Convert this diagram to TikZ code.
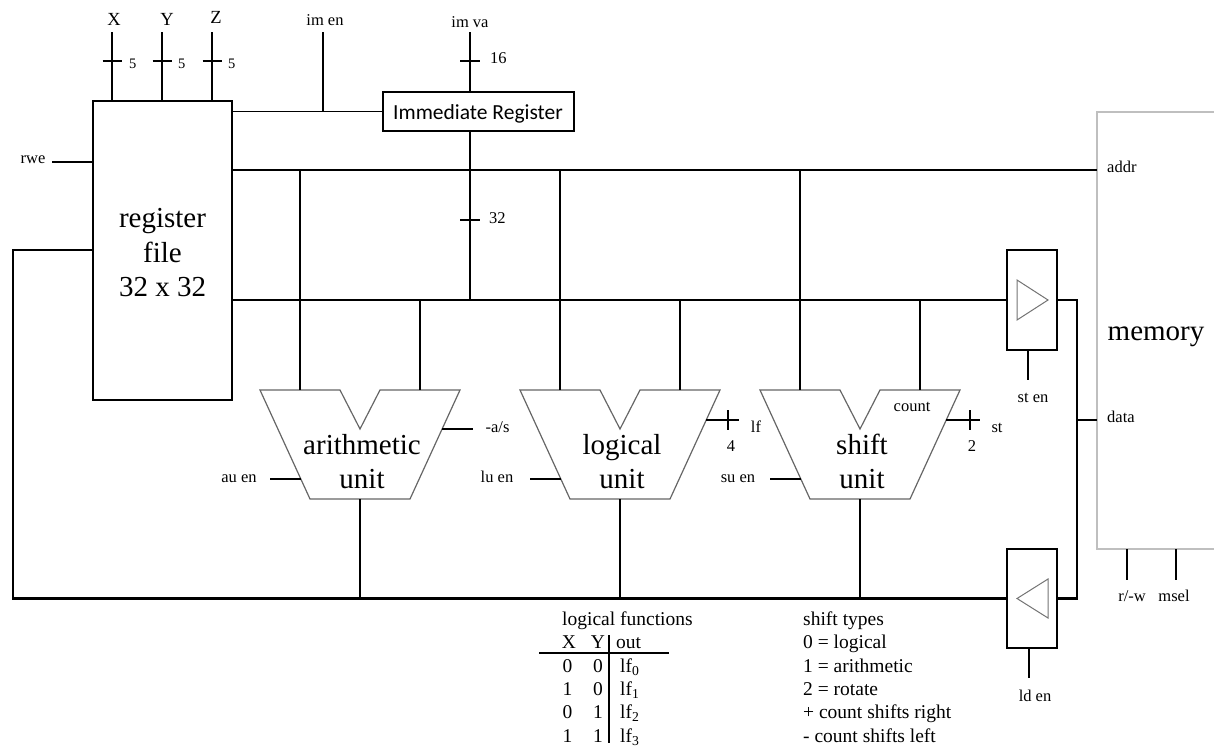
\documentclass[tikz,border=0pt]{standalone}
\usepackage{fontspec}
\setmainfont{Liberation Serif}
\newfontfamily\calib{Carlito}
\begin{document}
\begin{tikzpicture}[x=1pt,y=-1pt,
  bus/.style={line width=2.6pt},
  wire/.style={line width=1.3pt},
  box/.style={draw, line width=1.3pt, inner sep=0pt, outer sep=0pt},
  unitshape/.style={draw=black!60, line width=1.2pt, line join=miter},
  lbl/.style={inner sep=0pt, anchor=base, font=\fontsize{16.5}{19}\selectfont},
  lblw/.style={lbl, anchor=base west},
  sml/.style={inner sep=0pt, anchor=base west, font=\fontsize{14.5}{17}\selectfont},
  pin/.style={inner sep=0pt, anchor=base, font=\fontsize{18.5}{21}\selectfont},
  big/.style={inner sep=0pt, anchor=base, font=\fontsize{29}{34}\selectfont},
  tbl/.style={inner sep=0pt, anchor=base, font=\fontsize{19.5}{23}\selectfont},
  tblw/.style={tbl, anchor=base west},
  pics/alu/.style 2 args={code={
    \draw[unitshape] (-100,0) -- (-20,0) -- (0,39) -- (20,0) -- (100,0) -- (50,109) -- (-50,109) -- cycle;
    \coordinate (-in1) at (-60,0);
    \coordinate (-in2) at (60,0);
    \coordinate (-out) at (0,109);
    \coordinate (-en) at (-59.2,89);
    \coordinate (-ctl) at (86.2,30);
    \coordinate (-as) at (82.1,39);
    \node[big] (-t1) at (2,64) {#1};
    \node[big] (-t2) at (2,98) {#2};
  }}]
\useasboundingbox (0,0) rectangle (1214,750);
\clip (0,0) rectangle (1214,750);

% ---------- main blocks ----------
\node[box, minimum width=139pt, minimum height=299pt, anchor=north west] (rf) at (93,101) {};
\node[big] (rf1) at (162.5,227) {register};
\node[big] (rf2) at (162.5,262) {file};
\node[big] (rf3) at (162.5,296) {32 x 32};

\node[box, minimum width=191pt, minimum height=39pt, anchor=north west] (ir) at (383,92) {};
\node[inner sep=0pt, anchor=base, font=\calib\fontsize{21.5}{24}\selectfont] (irt) at (478,119) {Immediate Register};

\node[draw=black!25, line width=2.6pt, inner sep=0pt, outer sep=0pt, minimum width=160pt, minimum height=437pt, anchor=north west] (mem) at (1097,112) {};
\node[big] (memt) at (1156,340) {memory};

\node[box, minimum width=50pt, minimum height=100pt, anchor=north west] (sd) at (1007,250) {};
\node[box, minimum width=50pt, minimum height=99pt, anchor=north west] (ld) at (1007,549) {};
\draw[draw=black!55, line width=1pt, line join=miter] (sd.center) ++(-15,-20) -- ++(0,40) -- ++(31,-20) -- cycle;
\draw[draw=black!55, line width=1pt, line join=miter] (ld.center) ++(16,-19.5) -- ++(0,39) -- ++(-31,-19.5) -- cycle;

\pic (au) at (360,390) {alu={arithmetic}{unit}};
\pic (lu) at (620,390) {alu={logical}{unit}};
\pic (su) at (860,390) {alu={shift}{unit}};

% ---------- helper coordinates ----------
\coordinate (yU) at (0,170);
\coordinate (yL) at (0,300);
\coordinate (dj) at (1077,420);
\coordinate (fbc) at (13,250);
\coordinate (irx) at (470,32);
\coordinate (imen) at (323,32);
\coordinate (xT) at (112,32);
\coordinate (yT) at (162,32);
\coordinate (zT) at (212,32);
\coordinate (rweL) at (52,162);
\coordinate (rw) at (1127,0);
\coordinate (ms) at (1176,0);

% ---------- buses ----------
\draw[bus] (rf.east |- yU) -- (mem.west |- yU);
\draw[bus] (rf.east |- yL) -- (sd.west);
\draw[bus] (irx) -- (ir.north -| irx);
\draw[bus] (ir.south -| irx) -- (irx |- yL);
\draw[bus, line join=miter] (sd.east) -| (dj) |- (ld.east);
\draw[bus] (dj) -- (mem.west |- dj);
\draw[bus, line join=miter] (ld.west) -| (fbc) -- (rf.west |- fbc);
\draw[bus] (xT) -- (xT |- rf.north);
\draw[bus] (yT) -- (yT |- rf.north);
\draw[bus] (zT) -- (zT |- rf.north);

\foreach \u in {au,lu,su}{
  \draw[bus] (\u-in1 |- yU) -- (\u-in1);
  \draw[bus] (\u-in2 |- yL) -- (\u-in2);
  \draw[bus] (\u-out) -- (\u-out |- ld.west);
}

% ---------- width ticks ----------
\draw[wire] (102.5,61) -- (121.5,61);
\draw[wire] (152.5,61) -- (171.5,61);
\draw[wire] (202.5,61) -- (221.5,61);
\draw[wire] (460,61) -- (480,61);
\draw[wire] (460,220) -- (480,220);
\draw[wire] (728,410) -- (728,430);
\draw[wire] (970,410) -- (970,430);

% ---------- control wires ----------
\draw[wire] (rf.east |- ir.west) -- (ir.west);
\draw[wire] (imen) -- (imen |- ir.west);
\draw[wire] (rweL) -- (rweL -| rf.west);
\draw[wire] (au-en) -- ++(-31,0);
\draw[wire] (au-as) -- ++(31,0);
\draw[wire] (lu-en) -- ++(-31,0);
\draw[wire] (lu-ctl) -- ++(33,0);
\draw[wire] (su-en) -- ++(-31,0);
\draw[wire] (su-ctl) -- ++(34,0);
\draw[wire] ([xshift=-4pt]sd.south) -- ++(0,30);
\draw[wire] ([xshift=-3pt]ld.south) -- ++(0,30);
\draw[wire] (mem.south -| rw) -- ++(0,31);
\draw[wire] (mem.south -| ms) -- ++(0,31);

% ---------- labels ----------
\node[pin] (lX) at (114,25) {X};
\node[pin] (lY) at (167,25) {Y};
\node[pin] (lZ) at (216,23) {Z};
\node[sml] (n5a) at (129,68) {5};
\node[sml] (n5b) at (178,68) {5};
\node[sml] (n5c) at (228,68) {5};
\node[lbl] (limen) at (325,25) {im en};
\node[lbl] (limva) at (470,27) {im va};
\node[lblw] (n16) at (490,63) {16};
\node[lblw] (n32) at (489,223) {32};
\node[lbl] (lrwe) at (33,163) {rwe};
\node[lblw] (laddr) at (1107,172) {addr};
\node[lblw] (ldata) at (1107,422) {data};
\node[lbl] (lauen) at (239,482) {au en};
\node[lbl] (las) at (497.5,432) {-a/s};
\node[lbl] (luen) at (497,482) {lu en};
\node[lbl] (llf) at (756,432) {lf};
\node[lbl] (n4) at (731,451) {4};
\node[lbl] (lsuen) at (738,482) {su en};
\node[lbl] (lcount) at (912,411) {count};
\node[lbl] (lst) at (997,432) {st};
\node[lbl] (n2) at (972,451) {2};
\node[lbl] (lsten) at (1033,402) {st en};
\node[lbl] (llden) at (1035,701) {ld en};
\node[lbl] (lrw) at (1132,601) {r/-w};
\node[lbl] (lmsel) at (1174,601) {msel};

% ---------- logical functions table ----------
\node[tblw] (tlf) at (562,625) {logical functions};
\node[tbl] (thx) at (569,648) {X};
\node[tbl] (thy) at (598,648) {Y};
\node[tblw] (tho) at (616,648) {out};
\node[tbl] (t1a) at (567.5,672) {0};
\node[tbl] (t1b) at (598,672) {0};
\node[tblw] (t1c) at (620,672) {lf\textsubscript{0}};
\node[tbl] (t2a) at (567.5,695) {1};
\node[tbl] (t2b) at (598,695) {0};
\node[tblw] (t2c) at (620,695) {lf\textsubscript{1}};
\node[tbl] (t3a) at (567.5,718) {0};
\node[tbl] (t3b) at (598,718) {1};
\node[tblw] (t3c) at (620,718) {lf\textsubscript{2}};
\node[tbl] (t4a) at (567.5,742) {1};
\node[tbl] (t4b) at (598,742) {1};
\node[tblw] (t4c) at (620,742) {lf\textsubscript{3}};
\draw[wire] (539,653) -- (669,653);
\draw[wire] (609,635) -- (609,743);

% ---------- shift types ----------
\node[tblw] (s0) at (803,625) {shift types};
\node[tblw] (s1) at (803,648) {0 = logical};
\node[tblw] (s2) at (803,672) {1 = arithmetic};
\node[tblw] (s3) at (803,695) {2 = rotate};
\node[tblw] (s4) at (803,718) {+ count shifts right};
\node[tblw] (s5) at (803,742) {- count shifts left};
\end{tikzpicture}
\end{document}
